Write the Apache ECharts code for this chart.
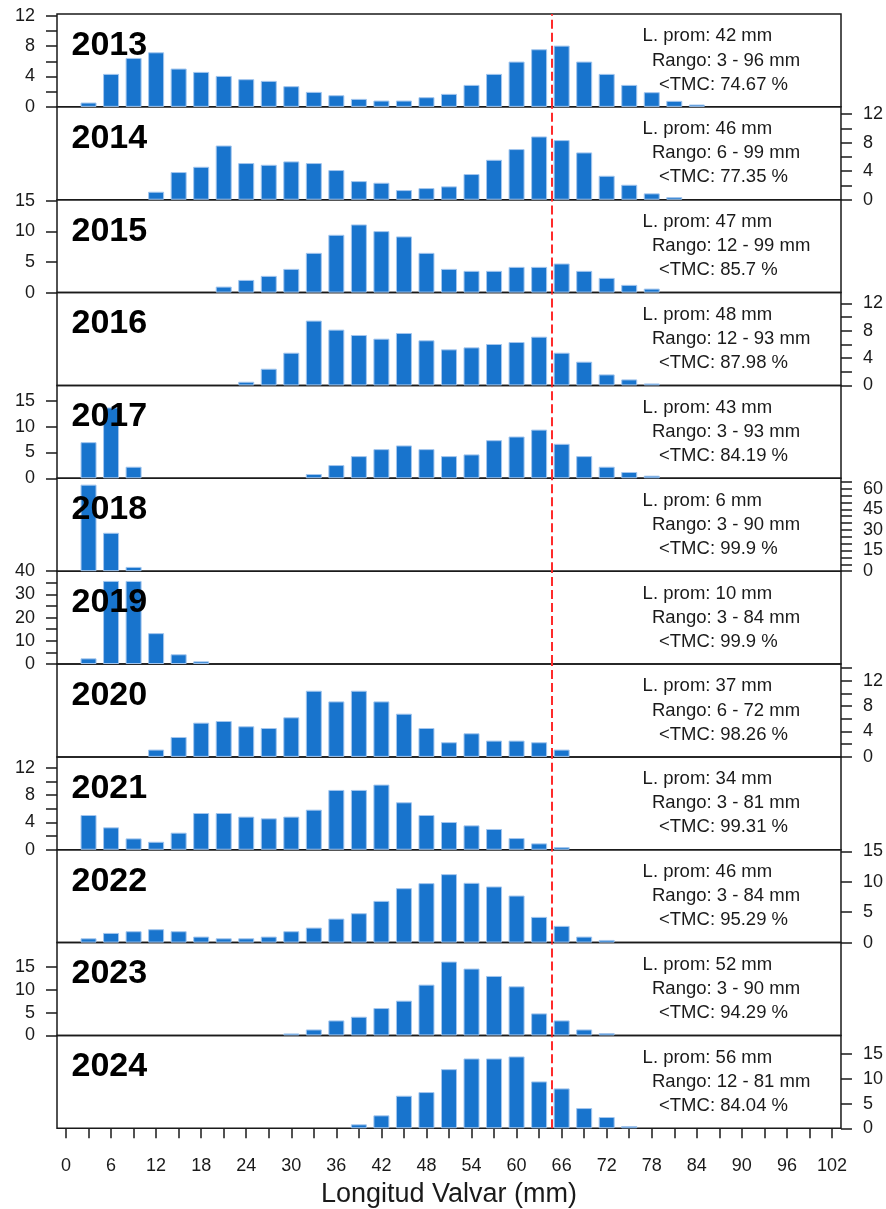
<!DOCTYPE html>
<html><head><meta charset="utf-8">
<script src="https://cdn.jsdelivr.net/npm/echarts@6/dist/echarts.min.js"></script>
<style>html,body{margin:0;padding:0;background:#fff}#c{width:886px;height:1209px}</style>
</head><body><div id="c"></div>
<script>
// ---------- data ----------
const years = ['2013','2014','2015','2016','2017','2018','2019','2020','2021','2022','2023','2024'];
const bins = [3,6,9,12,15,18,21,24,27,30,33,36,39,42,45,48,51,54,57,60,63,66,69,72,75,78,81,84];
const y2013 = [0.57,4.34,6.44,7.18,5.04,4.6,4.07,3.64,3.42,2.72,1.97,1.53,1.05,0.83,0.83,1.27,1.71,2.89,4.34,5.96,7.58,8.06,5.96,4.34,2.89,1.93,0.79,0.31];
const y2014 = [0,0,0,1.12,3.88,4.62,7.6,5.14,4.9,5.37,5.14,4.16,2.61,2.38,1.35,1.63,1.87,3.6,5.6,7.1,8.87,8.36,6.63,3.36,2.1,0.89,0.37,0];
const y2015 = [0,0,0,0,0,0,0.98,2.07,2.73,3.87,6.49,9.44,11.13,10.04,9.17,6.49,3.87,3.55,3.55,4.2,4.2,4.75,3.55,2.4,1.26,0.65,0,0];
const y2016 = [0,0,0,0,0,0,0,0.54,2.44,4.78,9.47,8.15,7.37,6.83,7.66,6.59,5.27,5.56,6.05,6.34,7.12,4.78,3.47,1.61,0.88,0.29,0,0];
const y2017 = [6.99,13.7,2.24,0,0,0,0,0,0,0,0.83,2.56,4.29,5.64,6.35,5.64,4.29,4.62,7.37,8.08,9.42,6.67,4.29,2.24,1.22,0.51,0,0];
const y2018 = [62.9,27.9,3.1,0,0,0,0,0,0,0,0,0,0,0,0,0,0,0,0,0,0,0,0,0,0,0,0,0];
const y2019 = [2.45,35.8,35.8,13.3,4.19,1.15,0,0,0,0,0,0,0,0,0,0,0,0,0,0,0,0,0,0,0,0,0,0];
const y2020 = [0,0,0,1.15,3.13,5.38,5.64,4.81,4.54,6.22,10.4,8.72,10.4,8.72,6.79,4.54,2.3,3.71,2.56,2.56,2.3,1.15,0,0,0,0,0,0];
const y2021 = [5.09,3.28,1.66,1.17,2.5,5.38,5.38,4.85,4.6,4.85,5.87,8.76,8.76,9.54,6.95,5.09,4.06,3.57,3.04,1.71,0.93,0.39,0,0,0,0,0,0];
const y2022 = [0.71,1.59,1.87,2.2,1.87,0.99,0.71,0.71,0.99,1.87,2.47,3.95,4.83,6.86,8.95,9.78,11.26,9.83,9.23,7.74,4.23,2.75,0.99,0.44,0,0,0,0];
const y2023 = [0,0,0,0,0,0,0,0,0,0.44,1.31,3.28,4.09,5.98,7.59,11.09,16.12,14.59,12.98,10.72,4.81,3.28,1.31,0.51,0,0,0,0];
const y2024 = [0,0,0,0,0,0,0,0,0,0,0,0,0.81,2.63,6.6,7.34,11.98,14.14,14.14,14.55,9.49,8.08,4.1,2.29,0.47,0,0,0];
const meanLen = ['42','46','47','48','43','6','10','37','34','46','52','56'];
const rangeTxt = ['3 - 96','6 - 99','12 - 99','12 - 93','3 - 93','3 - 90','3 - 84','6 - 72','3 - 81','3 - 84','3 - 90','12 - 81'];
const pctTmc = ['74.67','77.35','85.7','87.98','84.19','99.9','99.9','98.26','99.31','95.29','94.29','84.04'];
const yMax = [12.22,13.02,15.17,13.56,17.96,67.5,40,14.6,13.6,15.27,20.26,18.8];
const ticks2_12 = [0,2,4,6,8,10,12];
const ticks2_14 = [0,2,4,6,8,10,12,14];
const lab4_12 = [0,4,8,12];
const ticks5_15 = [0,5,10,15];
const ticks5_65 = [0,5,10,15,20,25,30,35,40,45,50,55,60,65];
const lab15_60 = [0,15,30,45,60];
const ticks5_40 = [0,5,10,15,20,25,30,35,40];
const lab10_40 = [0,10,20,30,40];
const yTicks = [ticks2_12,ticks2_12,ticks5_15,ticks2_12,ticks5_15,ticks5_65,ticks5_40,ticks2_14,ticks2_12,ticks5_15,ticks5_15,ticks5_15];
const yLabels = [lab4_12,lab4_12,ticks5_15,lab4_12,ticks5_15,lab15_60,lab10_40,lab4_12,lab4_12,ticks5_15,ticks5_15,ticks5_15];
const xTicks = [0,3,6,9,12,15,18,21,24,27,30,33,36,39,42,45,48,51,54,57,60,63,66,69,72,75,78,81,84,87,90,93,96,99,102];
const xLabels = [0,6,12,18,24,30,36,42,48,54,60,66,72,78,84,90,96,102];
const tmc = 64.7;
const xTitle = 'Longitud Valvar (mm)';
const values = [y2013,y2014,y2015,y2016,y2017,y2018,y2019,y2020,y2021,y2022,y2023,y2024];

// ---------- layout ----------
const L = 57, R = 45, TOP = 14, H = 92.86;
const FONT = '"Liberation Sans", Arial, sans-serif';
const INK = '#1a1a1a';

const chart = echarts.init(document.getElementById('c'), null, {renderer:'canvas'});
const grids = [], xAxes = [], yAxes = [], series = [], graphics = [];
years.forEach((yr, i) => {
  const t = TOP + i * H;
  grids.push({left:L, right:R, top:t, height:H, show:true, borderColor:INK, borderWidth:1.5, backgroundColor:'transparent'});
  xAxes.push({
    type:'value', gridIndex:i, min:-1.2, max:103.2, show: i === years.length - 1,
    axisLine:{show:false, onZero:false}, splitLine:{show:false},
    axisTick:{show:true, length:10, customValues:xTicks, lineStyle:{color:INK, width:1.5}},
    axisLabel:{customValues:xLabels, margin:29, fontSize:18, color:INK, fontFamily:FONT}
  });
  yAxes.push({
    type:'value', gridIndex:i, min:0, max:yMax[i], position: i % 2 === 0 ? 'left' : 'right',
    axisLine:{show:false, onZero:false}, splitLine:{show:false},
    axisTick:{show:true, length:11, customValues:yTicks[i], lineStyle:{color:INK, width:1.5}},
    axisLabel:{customValues:yLabels[i], margin:22, fontSize:18, color:INK, fontFamily:FONT}
  });
  series.push({
    type:'bar', xAxisIndex:i, yAxisIndex:i, barWidth:16,
    data: bins.map((b, k) => [b, values[i][k]]).filter(d => d[1] > 0),
    itemStyle:{color:'#1874CD', borderColor:'#a3c6ee', borderWidth:1},
    markLine:{symbol:'none', silent:true, animation:false, label:{show:false},
      lineStyle:{color:'#ff2b2b', type:[9,4], width:2}, emphasis:{disabled:true},
      data:[{xAxis:tmc}]}
  });
  graphics.push({type:'text', x:71.5, y:t + 31.5, z:100,
    style:{text:yr, font:'bold 34px ' + FONT, fill:'#000', align:'left', verticalAlign:'middle'}});
  graphics.push({type:'text', x:642.6, y:t + 22.3, z:100,
    style:{text:'L. prom: ' + meanLen[i] + ' mm', font:'18.5px ' + FONT, fill:INK, align:'left', verticalAlign:'middle'}});
  graphics.push({type:'text', x:652, y:t + 46.5, z:100,
    style:{text:'Rango: ' + rangeTxt[i] + ' mm', font:'18.5px ' + FONT, fill:INK, align:'left', verticalAlign:'middle'}});
  graphics.push({type:'text', x:659, y:t + 70.5, z:100,
    style:{text:'<TMC: ' + pctTmc[i] + ' %', font:'18.5px ' + FONT, fill:INK, align:'left', verticalAlign:'middle'}});
});
graphics.push({type:'text', x:449, y:1195, z:100,
  style:{text:xTitle, font:'27px ' + FONT, fill:INK, align:'center', verticalAlign:'middle'}});

chart.setOption({
  animation:false,
  backgroundColor:'#fff',
  grid:grids, xAxis:xAxes, yAxis:yAxes, series:series, graphic:graphics
});
</script></body></html>
